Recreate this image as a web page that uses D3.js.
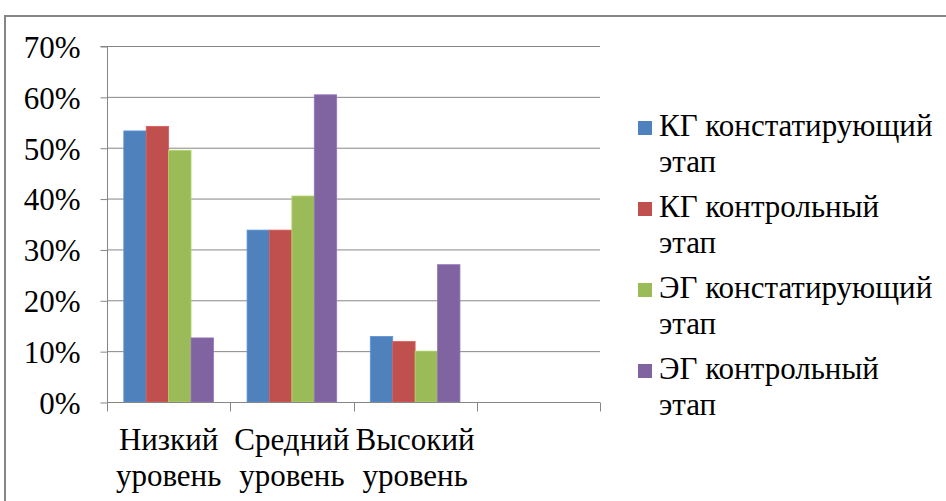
<!DOCTYPE html>
<html><head><meta charset="utf-8">
<script src="https://cdn.jsdelivr.net/npm/d3@7"></script>
<style>body{margin:0;background:#fff}svg{display:block}</style>
</head><body><svg id="c" width="946" height="501"></svg>
<script>
const categories = [["Низкий","уровень"],["Средний","уровень"],["Высокий","уровень"],[""]];
const categoryKeys = ["low","mid","high","empty"];
const seriesNames = [["КГ констатирующий","этап"],["КГ контрольный","этап"],["ЭГ констатирующий","этап"],["ЭГ контрольный","этап"]];
const kgStart = [53.3, 33.8, 12.9];
const kgEnd = [54.2, 33.8, 11.9];
const egStart = [49.5, 40.5, 10.0];
const egEnd = [12.6, 60.4, 27.0];
const yTicks = [0,10,20,30,40,50,60,70];
const colors = ["#4F81BD","#C0504D","#9BBB59","#8064A2"];
const series = [kgStart, kgEnd, egStart, egEnd];
const FONT = '"Liberation Serif"';
const FS = 31;

const svg = d3.select("#c");
svg.append("rect").attr("x",5).attr("y",16).attr("width",960).attr("height",520)
  .attr("fill","#fff").attr("stroke","#868686").attr("stroke-width",2);

const L=107, R=600, T=46, B=402;
const x = d3.scaleBand().domain(categoryKeys).range([L,R]).paddingInner(0).paddingOuter(0);
const y = d3.scaleLinear().domain([0,70]).range([B,T]);
const inner = d3.scaleBand().domain(d3.range(4)).range([0,x.bandwidth()]).paddingOuter(0.75).paddingInner(0);

svg.append("g").selectAll("line").data(yTicks).join("line")
  .attr("x1",L).attr("x2",R).attr("y1",d=>y(d)+0.5).attr("y2",d=>y(d)+0.5)
  .attr("stroke","#868686").attr("stroke-width",1);

categoryKeys.slice(0,3).forEach((c,ci)=>{
  series.forEach((s,si)=>{
    svg.append("rect").attr("x",x(c)+inner(si)).attr("width",inner.bandwidth())
      .attr("y",y(s[ci])).attr("height",y(0)-y(s[ci]))
      .attr("fill",colors[si]).attr("stroke",d3.color(colors[si]).brighter(0.4)).attr("stroke-width",0.8);
  });
});

const ya = svg.append("g").attr("transform",`translate(${L+0.5},0.5)`)
  .call(d3.axisLeft(y).tickValues(yTicks).tickSize(7).tickPadding(20).tickFormat(d=>d+"%"));
ya.select(".domain").attr("stroke","#868686").attr("d",`M-7,${T}H0V${B}`);
ya.selectAll(".tick line").attr("stroke","#868686");
ya.selectAll(".tick text").style("font-size",FS+"px").style("font-family",FONT).attr("fill","#000").attr("dy","0.35em");

const xa = svg.append("g").attr("transform",`translate(0,${B+0.5})`);
xa.append("line").attr("x1",L).attr("x2",R).attr("stroke","#868686");
const edges = categoryKeys.map(c=>x(c)).concat([R]);
xa.selectAll("line.t").data(edges).join("line").attr("class","t")
  .attr("x1",d=>Math.round(d)+0.5).attr("x2",d=>Math.round(d)+0.5).attr("y1",0).attr("y2",9).attr("stroke","#868686");
categoryKeys.forEach((c,ci)=>{
  const t = xa.append("text").attr("text-anchor","middle").style("font-size",FS+"px").style("font-family",FONT).attr("fill","#000")
    .attr("x",x(c)+x.bandwidth()/2);
  categories[ci].forEach((ln,li)=>t.append("tspan").attr("x",x(c)+x.bandwidth()/2).attr("y",47.5+li*36).text(ln));
});

const lg = svg.append("g");
seriesNames.forEach((nm,i)=>{
  const by = 136 + i*81;
  lg.append("rect").attr("x",638).attr("y",by-15).attr("width",14).attr("height",14).attr("fill",colors[i]);
  const t = lg.append("text").style("font-size",FS+"px").style("font-family",FONT).attr("fill","#000");
  nm.forEach((ln,li)=>t.append("tspan").attr("x",659).attr("y",by+li*36).text(ln));
});
</script></body></html>
